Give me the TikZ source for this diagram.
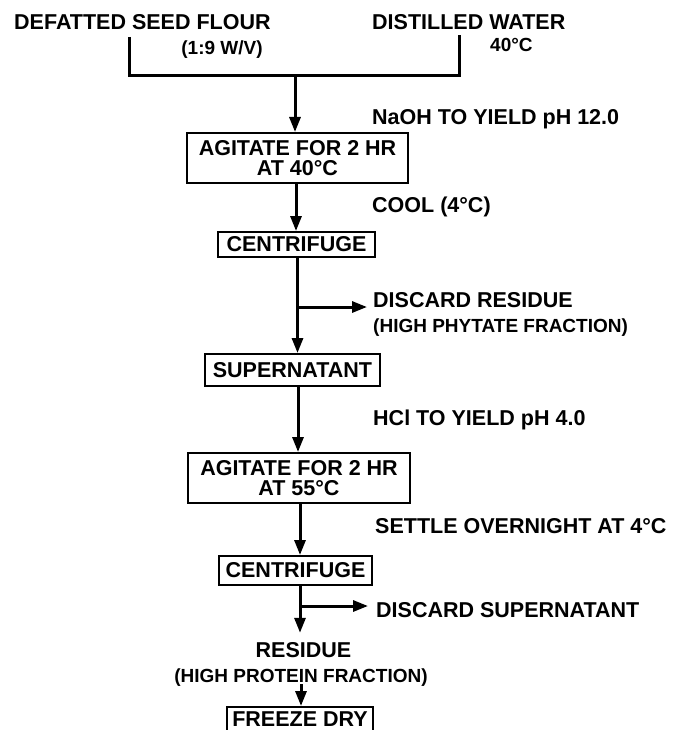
\documentclass[tikz,border=0pt]{standalone}
\usepackage{fontspec}
\setmainfont{Liberation Sans}
\usetikzlibrary{arrows.meta}
\begin{document}
\begin{tikzpicture}[x=1pt,y=-1pt,
  big/.style={font=\bfseries\fontsize{21.5}{20}\selectfont, inner sep=0pt},
  small/.style={font=\bfseries\fontsize{19}{19}\selectfont, inner sep=0pt},
  box/.style={draw, line width=2pt, big, align=center},
  flow/.style={line width=3pt, -{Triangle[length=15pt,width=11pt]}},
  plain/.style={line width=3pt, line join=miter}]
\clip (0,0) rectangle (673,730);
\fill[white] (0,0) rectangle (673,730);

% top inputs
\node[big, anchor=base west] (flour) at (14,30) {DEFATTED SEED FLOUR};
\node[big, anchor=base west] (water) at (372,30) {DISTILLED WATER};
\node[small, anchor=base] (ratio) at (222,55) {(1:9 W/V)};
\node[small, anchor=base west] (temp) at (490,52) {40°C};

\coordinate (tl) at (129,37);
\coordinate (bl) at (129,76);
\coordinate (br) at (459,76);
\coordinate (tr) at (459,35);
\coordinate (jm) at (295,76);
\draw[plain] (tl) -- (bl) -- (br) -- (tr);

% boxes
\node[box, minimum width=221pt, minimum height=50pt] (b1) at (297.5,158) {AGITATE FOR 2 HR\\AT 40°C};
\node[box, minimum width=157pt, minimum height=25pt] (b2) at (296.5,244.5) {CENTRIFUGE};
\node[box, minimum width=175pt, minimum height=32pt] (b3) at (292.5,370) {SUPERNATANT};
\node[box, minimum width=222pt, minimum height=50pt] (b4) at (299,478) {AGITATE FOR 2 HR\\AT 55°C};
\node[box, minimum width=153pt, minimum height=29pt] (b5) at (295.5,570.5) {CENTRIFUGE};
\node[box, minimum width=146pt, minimum height=32pt, anchor=north] (b6) at (300,706) {\raisebox{7pt}{FREEZE DRY}};

\node[big, anchor=base] (res1) at (303.5,657) {RESIDUE};
\node[small, anchor=base] (res2) at (301,682) {(HIGH PROTEIN FRACTION)};

% side labels
\node[big, anchor=base west] (naoh) at (372,125) {NaOH TO YIELD pH 12.0};
\node[big, anchor=base west] (cool) at (372,212) {COOL (4°C)};
\node[big, anchor=base west] (dr1) at (373,307) {DISCARD RESIDUE};
\node[small, anchor=base west] (dr2) at (373,332) {(HIGH PHYTATE FRACTION)};
\node[big, anchor=base west] (hcl) at (373,425) {HCl TO YIELD pH 4.0};
\node[big, anchor=base west] (settle) at (375,533) {SETTLE OVERNIGHT AT 4°C};
\node[big, anchor=base west] (ds) at (376,617) {DISCARD SUPERNATANT};

% spine x positions
\coordinate (s1) at (295,0);
\coordinate (s2) at (296,0);
\coordinate (s3) at (297.5,0);
\coordinate (s4) at (298,0);
\coordinate (s5) at (300,0);
\coordinate (s6) at (300,0);
\coordinate (s7) at (301,0);
\coordinate (k1) at (297.5,307);
\coordinate (k2) at (300,606);

% connectors
\draw[flow] (jm) -- (b1.north -| s1);
\draw[flow] (b1.south -| s2) -- (b2.north -| s2);
\draw[flow] (b2.south -| s3) -- (b3.north -| s3);
\draw[flow] (k1) -- ([xshift=-6pt]k1 -| dr1.west);
\draw[flow] (b3.south -| s4) -- (b4.north -| s4);
\draw[flow] (b4.south -| s5) -- (b5.north -| s5);
\draw[flow] (b5.south -| s6) -- ([yshift=9pt]res1.north -| s6);
\draw[flow] (k2) -- ([xshift=-8pt]k2 -| ds.west);
\draw[flow] ([yshift=2pt]res2.south -| s7) -- (b6.north -| s7);
\end{tikzpicture}
\end{document}
